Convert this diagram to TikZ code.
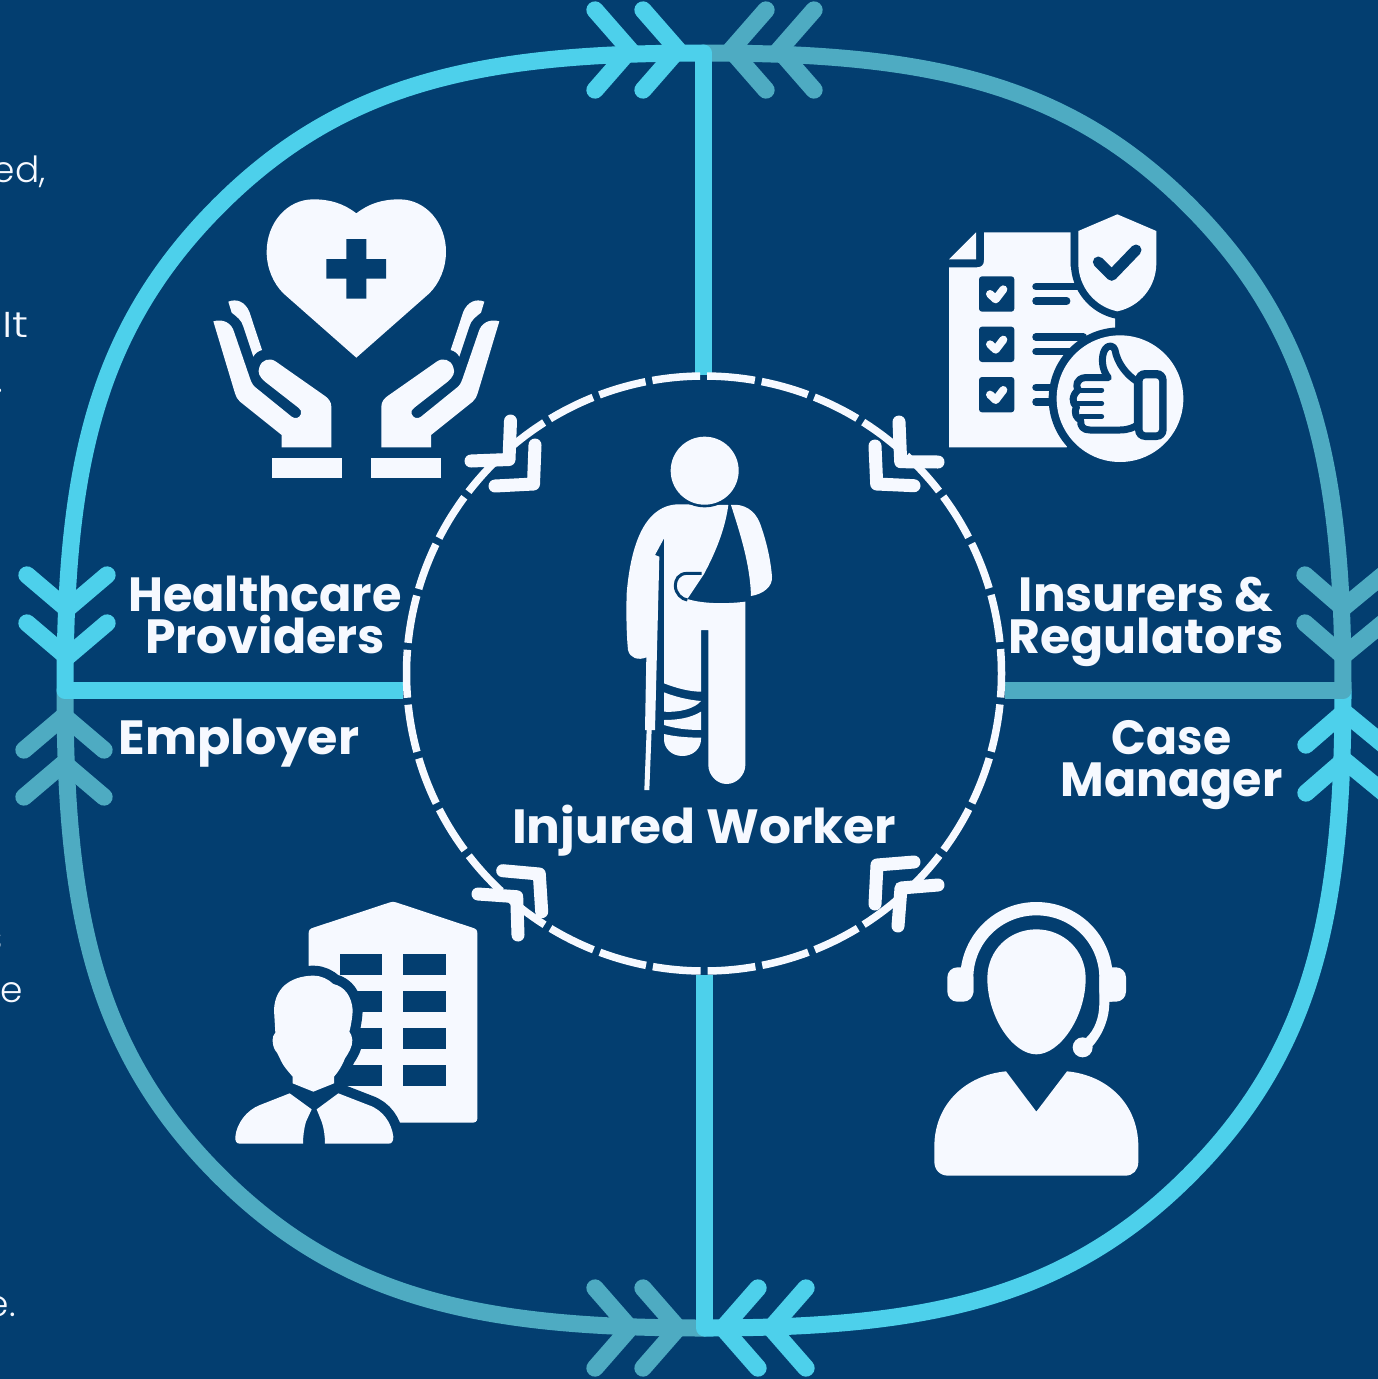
\documentclass[tikz,border=0pt]{standalone}
\usepackage{fontspec}
\usepackage{graphicx}
\setmainfont{Poppins}
\newfontfamily\lightf{Poppins Light}
\definecolor{bg}{HTML}{033E70}
\definecolor{cyanl}{HTML}{4DD0EB}
\definecolor{tealc}{HTML}{4EABC2}
\definecolor{ink}{HTML}{F6F9FF}
\newcommand{\sx}[2]{\scalebox{#1}[1]{#2}}
\newcommand{\quarterarc}[3]{\begin{scope}[shift={(704,690.5)},xscale=#1,yscale=#2]
\draw[band,#3] (-639,0) .. controls (-639,-220) and (-610,-360) .. (-485,-485) .. controls (-360,-610) and (-220,-637.5) .. (0,-637.5);
\end{scope}}
\tikzset{
  band/.style={line width=17pt,line join=round},
  chev/.style={line width=17.3pt,line cap=round,line join=miter},
  wchev/.style={ink,line width=13pt,line cap=round,line join=round},
  lbl/.style={text=ink,font=\fontsize{48}{42}\selectfont\bfseries,align=center,inner sep=0pt},
  side/.style={text=ink,font=\lightf\fontsize{36}{36}\selectfont,inner sep=0pt,anchor=base east},
  icon/.style={fill=ink,draw=none},
  hole/.style={fill=bg,draw=none},
}
\begin{document}
\begin{tikzpicture}[x=1pt,y=-1pt]
\useasboundingbox (0,0) rectangle (1378,1379);
\clip (0,0) rectangle (1378,1379);
\fill[bg] (0,0) rectangle (1378,1379);
% side text cut by the edge
\node[side] (s1) at (46,182) {ed,};
\node[side] (s2) at (29,337) {\sx{1.25}{It}};
\node[side] (s3) at (3,392) {.};
\node[side] (s4) at (3,950) {s};
\node[side] (s5) at (23,1002) {e};
\node[side] (s6) at (16,1316) {e.};
% quarters
\quarterarc{1}{-1}{tealc}
\foreach \a/\b in {595/630,643/678}{
  \draw[chev,tealc] (\a,1288) -- (\b,1328) -- (\a,1368);}
\foreach \a in {750,797}{
  \draw[chev,tealc] (24,\a) -- (64,\a-34) -- (104,\a);}
\quarterarc{-1}{-1}{cyanl}
\draw[band,cyanl] (704.5,975) -- (704.5,1328);
\fill[cyanl] (704.5,1328) circle[radius=8.5];
\foreach \a/\b in {806/771,758/723}{
  \draw[chev,cyanl] (\a,1288) -- (\b,1328) -- (\a,1368);}
\foreach \a in {745,793}{
  \draw[chev,cyanl] (1306,\a) -- (1344,\a-33) -- (1384,\a);}
\quarterarc{-1}{1}{tealc}
\draw[band,tealc] (1005,690.5) -- (1343,690.5);
\fill[tealc] (1343,690.5) circle[radius=8.5];
\foreach \a/\b in {766/731,814/779}{
  \draw[chev,tealc] (\a,10) -- (\b,50) -- (\a,90);}
\foreach \a in {575,623}{
  \draw[chev,tealc] (1305,\a) -- (1343,\a+33) -- (1383,\a);}
\quarterarc{1}{1}{cyanl}
\draw[band,cyanl] (403,690.5) -- (65,690.5);
\fill[cyanl] (65,690.5) circle[radius=8.5];
\draw[band,cyanl] (703.5,53) -- (703.5,375);
\fill[cyanl] (703.5,53) circle[radius=8.5];
\foreach \a/\b in {595/630,643/678}{
  \draw[chev,cyanl] (\a,10) -- (\b,50) -- (\a,90);}
\foreach \a in {575,623}{
  \draw[chev,cyanl] (27,\a) -- (67,\a+34) -- (107,\a);}
% dashed circle
\draw[ink,line width=7.5pt,dash pattern=on 48pt off 6.97pt,dash phase=24pt] (704,673.5) circle[radius=297.5];
% inner chevrons
\draw[wchev] (510.5,421) -- (509,459.5) -- (471,461);
\draw[wchev] (535,445) -- (533.5,484) -- (495,486);
\draw[wchev] (899,422) -- (900.7,461.7) -- (938,462);
\draw[wchev] (875,446) -- (876.7,484) -- (914,485.7);
\draw[wchev] (478,894) -- (516.7,896.7) -- (518,935);
\draw[wchev] (502.7,870.7) -- (539.3,874) -- (541.7,911.7);
\draw[wchev] (914,862) -- (877,865) -- (875,904);
\draw[wchev] (938,885) -- (901,888) -- (898,926);
% labels
\node[lbl] (hc) at (265,615) {\sx{0.995}{Healthcare}\\\sx{1.02}{Providers}};
\node[lbl] (ir) at (1146,622) {\sx{1.01}{Insurers \&}\\\sx{1.02}{Regulators}};
\node[lbl] (em) at (239,743) {\sx{1.025}{Employer}};
\node[lbl] (cm) at (1171.5,765) {\sx{0.95}{Case}\\\sx{0.99}{Manager}};
\node[lbl] (iw) at (704,831) {\sx{1.045}{Injured Worker}};
% heart and hands
\begin{scope}[shift={(200,180)},scale=1/3]
\fill[icon] (469,100) .. controls (430,70) and (390,58) .. (340,58) .. controls (260,58) and (200,130) .. (200,215) .. controls (200,265) and (220,310) .. (250,340) -- (469,533) -- (688,340) .. controls (718,310) and (738,265) .. (738,215) .. controls (738,130) and (678,58) .. (598,58) .. controls (548,58) and (508,70) .. (469,100) -- cycle;
\fill[hole] (439,177) -- (499,177) -- (499,237) -- (558,237) -- (558,296) -- (499,296) -- (499,356) -- (439,356) -- (439,296) -- (379,296) -- (379,237) -- (439,237) -- cycle;
\foreach \s/\o in {1/0,-1/938}{
\begin{scope}[shift={(\o,0)},xscale=\s]
\fill[icon] (40,424) .. controls (70,415) and (95,430) .. (102,455) -- (150,595) .. controls (155,610) and (160,618) .. (170,625) -- (275,710) .. controls (285,718) and (298,715) .. (303,702) .. controls (306,695) and (302,688) .. (295,683) -- (195,605) .. controls (178,590) and (172,578) .. (178,562) .. controls (185,538) and (210,532) .. (228,545) -- (375,648) .. controls (385,655) and (394,665) .. (394,680) -- (394,802) -- (245,802) -- (245,765) -- (120,665) .. controls (112,658) and (108,650) .. (105,640) -- cycle;
\fill[icon] (85,365) .. controls (110,355) and (135,365) .. (148,395) -- (186,510) .. controls (175,513) and (165,520) .. (160,530) -- (130,440) .. controls (125,420) and (110,410) .. (95,398) -- cycle;
\fill[icon] (216,834) rectangle (426,894);
\end{scope}}
\end{scope}
% checklist
\begin{scope}[shift={(860,200)},scale=1/3]
\fill[icon] (372,97) -- (632,97) -- (632,200) -- (765,340) -- (765,400) -- (620,742) -- (267,742) -- (267,202) -- (350,202) .. controls (365,202) and (372,195) .. (372,180) -- cycle;
\fill[icon] (348,97) -- (348,178) -- (267,178) -- cycle;
\foreach \y in {229,380,531}{
  \fill[bg,rounded corners=3pt] (357,\y) rectangle (463,\y+106);
  \draw[ink,line width=8pt,line cap=round,line join=round] (390,\y+53) -- (407,\y+69) -- (430,\y+39);}
\draw[bg,line width=7.5pt,line cap=round] (528,260) -- (660,260) (528,303) -- (620,303) (528,411) -- (670,411) (528,455) -- (640,455) (528,562) -- (600,562) (528,606) -- (600,606);
\filldraw[fill=ink,draw=bg,line width=15pt] (772,43) -- (889,93) -- (889,190) .. controls (889,260) and (840,320) .. (772,334) .. controls (704,320) and (655,260) .. (655,190) -- (655,93) -- cycle;
\fill[ink] (772,43) -- (889,93) -- (889,190) .. controls (889,260) and (840,320) .. (772,334) .. controls (704,320) and (655,260) .. (655,190) -- (655,93) -- cycle;
\draw[bg,line width=11pt,line cap=round,line join=round] (715,186) -- (755,226) -- (828,150);
\fill[bg] (780,596) circle[radius=214];
\fill[ink] (780,596) circle[radius=190];
\fill[bg,rounded corners=10pt] (825,510) rectangle (920,720);
\fill[ink,rounded corners=3pt] (848,535) rectangle (897,697);
\filldraw[fill=ink,draw=bg,line width=7pt,line join=round] (832,545) .. controls (800,525) and (772,490) .. (765,450) .. controls (762,437) and (745,432) .. (735,448) .. controls (722,470) and (725,510) .. (745,533) -- (675,533) .. controls (650,535) and (645,558) .. (655,570) .. controls (635,585) and (635,610) .. (650,620) .. controls (640,640) and (650,655) .. (662,660) .. controls (660,680) and (670,690) .. (690,690) -- (780,690) .. controls (805,690) and (822,682) .. (832,675) -- cycle;
\draw[bg,line width=5pt,line cap=round] (655,570) -- (725,570) (650,610) -- (725,610) (662,650) -- (725,650);
\end{scope}
% injured worker
\begin{scope}[shift={(600,420)},scale=1/3]
\fill[icon] (230,253) .. controls (150,258) and (95,340) .. (80,520) .. controls (78,590) and (80,650) .. (84,690) .. controls (90,715) and (115,722) .. (139,712) -- (135,930) -- (165,930) -- (178,410) -- (165,405) -- (192,355) -- (192,790) .. controls (230,805) and (270,815) .. (303,815) -- (303,630) -- (325,630) -- (325,1035) .. controls (325,1065) and (350,1092) .. (380,1092) .. controls (410,1092) and (436,1065) .. (436,1035) -- (436,545) .. controls (380,552) and (310,552) .. (262,537) -- (312,462) .. controls (345,400) and (375,330) .. (385,255) -- cycle;
\fill[hole] (314,152) circle[radius=110];
\fill[icon] (314,152) circle[radius=102];
\draw[bg,line width=3pt] (305,460) -- (262,460) .. controls (235,460) and (226,480) .. (226,497) .. controls (226,520) and (245,538) .. (262,540);
\fill[icon] (393,255) .. controls (430,250) and (465,270) .. (480,310) .. controls (500,365) and (512,420) .. (516,470) .. controls (518,500) and (490,522) .. (453,528) .. controls (450,430) and (420,340) .. (393,255) -- cycle;
\fill[icon] (192,817) .. controls (225,830) and (265,840) .. (303,843) .. controls (285,865) and (240,878) .. (192,875) -- cycle;
\fill[icon] (192,900) .. controls (230,900) and (270,895) .. (303,875) -- (303,930) .. controls (260,930) and (225,925) .. (192,915) -- cycle;
\fill[icon] (192,942) .. controls (225,950) and (265,953) .. (303,953) -- (303,958) .. controls (303,985) and (280,1008) .. (247,1008) .. controls (215,1008) and (192,985) .. (192,958) -- cycle;
\fill[icon] (140,928) -- (155,928) -- (148,1110) -- (133,1110) -- cycle;
\end{scope}
% employer
\begin{scope}[shift={(220,880)},scale=1/3]
\fill[icon] (266,160) .. controls (266,150) and (270,146) .. (280,143) -- (510,67) .. controls (515,65) and (522,65) .. (528,67) -- (757,143) .. controls (768,146) and (772,150) .. (772,160) -- (772,715) .. controls (772,725) and (765,728) .. (755,728) -- (266,728) -- cycle;
\foreach \y in {222,333,444,555}{
  \fill[hole] (359,\y) rectangle (487,\y+64);
  \fill[hole] (550,\y) rectangle (677,\y+64);}
\def\manhead{(280,287) .. controls (230,287) and (165,310) .. (162,390) -- (166,458) .. controls (155,470) and (155,490) .. (165,510) .. controls (175,520) and (180,540) .. (190,555) .. controls (200,570) and (210,580) .. (218,590) -- (218,610) -- (280,635) -- (342,610) -- (342,590) .. controls (355,575) and (365,560) .. (375,535) .. controls (385,520) and (398,500) .. (397,480) .. controls (397,470) and (392,460) .. (388,455) .. controls (395,430) and (398,400) .. (398,390) .. controls (395,350) and (375,320) .. (340,312) .. controls (325,298) and (305,287) .. (280,287) -- cycle}
\def\manleft{(209,640) -- (275,688) -- (258,725) .. controls (252,745) and (249,770) .. (249,791) -- (60,791) .. controls (50,791) and (45,785) .. (46,770) .. controls (50,730) and (80,690) .. (120,675) -- cycle}
\def\manright{(355,640) -- (290,688) -- (305,725) .. controls (312,745) and (315,770) .. (315,791) -- (505,791) .. controls (515,791) and (520,785) .. (520,770) .. controls (515,730) and (490,690) .. (445,675) -- cycle}
\draw[bg,line width=20pt,line join=round,fill=bg] \manhead;
\draw[bg,line width=20pt,line join=round,fill=bg] \manright;
\fill[bg] (200,620) rectangle (360,800);
\fill[icon] \manhead;
\fill[icon] \manleft;
\fill[icon] \manright;
\end{scope}
% case manager
\begin{scope}[shift={(920,890)},scale=1/3]
\fill[icon] (349,118) .. controls (430,118) and (497,180) .. (497,265) .. controls (497,380) and (420,493) .. (349,493) .. controls (278,493) and (202,380) .. (202,265) .. controls (202,180) and (268,118) .. (349,118) -- cycle;
\fill[icon] (122,240) .. controls (135,125) and (230,36) .. (349,36) .. controls (468,36) and (565,125) .. (577,240) -- (577,335) -- (568,335) .. controls (568,385) and (550,430) .. (518,468) -- (497,445) .. controls (525,420) and (538,380) .. (538,340) -- (538,264) .. controls (538,160) and (455,76) .. (349,76) .. controls (243,76) and (160,160) .. (160,264) -- (160,310) -- (122,310) -- cycle;
\fill[icon,rounded corners=10pt] (82,232) rectangle (160,335);
\fill[icon,rounded corners=10pt] (538,232) rectangle (618,335);
\fill[icon] (488,472) circle[radius=30];
\fill[icon] (258,544) -- (349,665) -- (441,544) .. controls (560,555) and (655,640) .. (655,770) -- (655,815) .. controls (655,840) and (640,857) .. (615,857) -- (85,857) .. controls (60,857) and (43,840) .. (43,815) -- (43,770) .. controls (43,640) and (140,555) .. (258,544) -- cycle;
\end{scope}
\end{tikzpicture}
\end{document}
